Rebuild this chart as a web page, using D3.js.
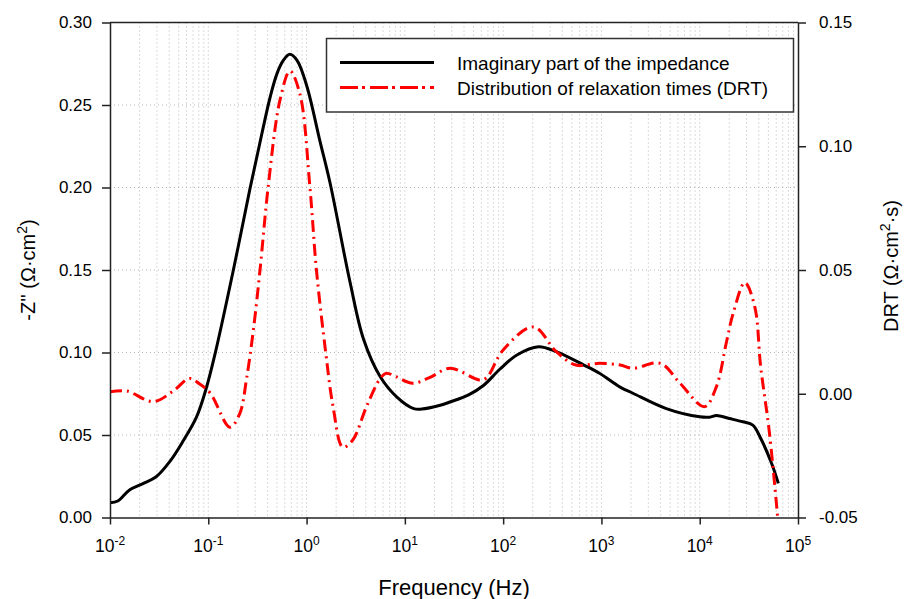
<!DOCTYPE html>
<html lang="en">
<head>
<meta charset="UTF-8">
<title>Imaginary impedance and DRT</title>
<script src="https://d3js.org/d3.v7.min.js"></script>
<style>
    body { margin: 0; background: #fff; }
    svg text { font-family: "Liberation Sans", Arial, sans-serif; fill: #000; }
    .grid line { stroke: #b8b8b8; stroke-width: 1; stroke-dasharray: 1,3; }
</style>
</head>
<body>
<div id="chart"></div>
<script>
    // frequency (Hz) and -Z'' (ohm cm2)
    const zFreq = [0.01, 0.012, 0.0158, 0.0219, 0.0295, 0.0407, 0.055, 0.076, 0.095, 0.117,
        0.18, 0.265, 0.349, 0.427, 0.50, 0.58, 0.676, 0.80, 1.0, 1.37, 1.73, 2.76, 3.8, 5.62, 8.3,
        12.3, 14.8, 22.9, 28.8, 45, 63, 93, 138, 229, 347, 661, 955, 1549, 2089,
        4571, 10000, 12600, 14800, 20000, 27500, 34700, 41700, 53700, 63100];
    const zImag = [0.009, 0.010, 0.0167, 0.0207, 0.0247, 0.034, 0.046, 0.061, 0.078, 0.099,
        0.150, 0.199, 0.232, 0.255, 0.269, 0.277, 0.2807, 0.277, 0.262, 0.228, 0.203, 0.143, 0.108, 0.0853, 0.073,
        0.066, 0.0657, 0.068, 0.070, 0.0745, 0.080, 0.090, 0.0985, 0.1035, 0.1005, 0.0924, 0.0874, 0.079, 0.0753,
        0.066, 0.061, 0.0608, 0.0618, 0.060, 0.058, 0.056, 0.048, 0.033, 0.0207];

    // frequency (Hz) and DRT (ohm cm2 s)
    const drtFreq = [0.01, 0.0148, 0.0275, 0.0437, 0.0646, 0.0813, 0.105, 0.166, 0.209, 0.245,
        0.288, 0.336, 0.407, 0.537, 0.678, 0.857, 1.08, 1.26, 1.57, 1.86, 2.34, 2.95,
        4.07, 5.62, 6.46, 8.13, 12.0, 17.8, 28.8, 57.5, 67.6, 100, 204, 347, 550, 955, 1549,
        2089, 3981, 6310, 11200, 14800, 18600, 21900, 28800, 36300, 41700, 51300, 63100];
    const drtVal = [0.0008, 0.0011, -0.0032, 0.001, 0.0062, 0.004, 0.0002, -0.0135, -0.008, 0.006,
        0.026, 0.050, 0.0837, 0.1187, 0.1304, 0.121, 0.0837, 0.050, 0.0163, -0.0052, -0.0216, -0.0187,
        -0.0052, 0.0062, 0.0083, 0.0069, 0.0042, 0.0065, 0.0103, 0.0056, 0.0064, 0.0177, 0.027, 0.017, 0.0116, 0.0123, 0.0116,
        0.0103, 0.0123, 0.0042, -0.0052, 0.0029, 0.0204, 0.0325, 0.0449, 0.0352, 0.011, -0.016, -0.053];

    const xTickExp = [-2, -1, 0, 1, 2, 3, 4, 5];
    const leftTicks = [0.00, 0.05, 0.10, 0.15, 0.20, 0.25, 0.30];
    const rightTicks = [-0.05, 0.00, 0.05, 0.10, 0.15];
    const legendLabels = ["Imaginary part of the impedance", "Distribution of relaxation times (DRT)"];

    const W = 904, H = 599;
    const margin = {top: 22.5, right: 106, bottom: 81.5, left: 110};
    const width = W - margin.left - margin.right,
          height = H - margin.top - margin.bottom;

    const root = d3.select("#chart").append("svg")
        .attr("width", W)
        .attr("height", H);

    const svg = root.append("g")
        .attr("transform", `translate(${margin.left},${margin.top})`);

    const x = d3.scaleLog().domain([0.01, 1e5]).range([0, width]);
    const yL = d3.scaleLinear().domain([0, 0.30]).range([height, 0]);
    const yR = d3.scaleLinear().domain([-0.05, 0.15]).range([height, 0]);

    // dotted grid
    const minor = [];
    for (let e = -2; e < 5; e++) {
        for (let k = 1; k < 10; k++) minor.push(k * Math.pow(10, e));
    }
    const grid = svg.append("g").attr("class", "grid");
    grid.selectAll(".v").data(minor.filter(v => v > 0.01))
        .enter().append("line")
        .attr("x1", d => x(d)).attr("x2", d => x(d))
        .attr("y1", 0).attr("y2", height);
    grid.selectAll(".h").data(leftTicks.slice(1, -1))
        .enter().append("line")
        .attr("x1", 0).attr("x2", width)
        .attr("y1", d => yL(d)).attr("y2", d => yL(d));

    svg.append("clipPath").attr("id", "clip")
        .append("rect").attr("width", width).attr("height", height);

    const lineZ = d3.line()
        .x((d, i) => x(zFreq[i]))
        .y(d => yL(d))
        .curve(d3.curveCatmullRom.alpha(0.5));
    const lineD = d3.line()
        .x((d, i) => x(drtFreq[i]))
        .y(d => yR(d))
        .curve(d3.curveCatmullRom.alpha(0.5));

    svg.append("path")
        .attr("clip-path", "url(#clip)")
        .attr("d", lineZ(zImag))
        .attr("fill", "none")
        .attr("stroke", "#000")
        .attr("stroke-width", 3);

    svg.append("path")
        .attr("clip-path", "url(#clip)")
        .attr("d", lineD(drtVal))
        .attr("fill", "none")
        .attr("stroke", "#ff0000")
        .attr("stroke-width", 3)
        .attr("stroke-dasharray", "12,5,2,5");

    // axes
    const axisStyle = g => {
        g.select(".domain").attr("stroke", "#222").attr("stroke-width", 1.5);
        g.selectAll(".tick line").attr("stroke", "#222").attr("stroke-width", 1.5);
        g.selectAll("text").style("font-size", "17px");
    };

    svg.append("g")
        .call(d3.axisLeft(yL).tickValues(leftTicks).tickFormat(d3.format(".2f")).tickSize(8).tickSizeOuter(0).tickPadding(10))
        .call(axisStyle);

    svg.append("g")
        .attr("transform", `translate(${width},0)`)
        .call(d3.axisRight(yR).tickValues(rightTicks).tickFormat(d3.format(".2f")).tickSize(8).tickSizeOuter(0).tickPadding(13))
        .call(axisStyle)
        .selectAll("text").text(d => d < 0 ? "-" + d3.format(".2f")(-d) : d3.format(".2f")(d));

    svg.append("g")
        .attr("transform", `translate(0,${height})`)
        .call(d3.axisBottom(x).tickValues(xTickExp.map(e => Math.pow(10, e))).tickFormat("").tickSize(7).tickSizeOuter(0))
        .call(axisStyle);

    // top frame
    svg.append("line")
        .attr("x1", 0).attr("x2", width).attr("y1", 0).attr("y2", 0)
        .attr("stroke", "#222").attr("stroke-width", 1.5);

    // bottom tick labels with superscripts
    const xl = svg.append("g").selectAll("text").data(xTickExp)
        .enter().append("text")
        .attr("x", d => x(Math.pow(10, d)))
        .attr("y", height + 34)
        .attr("text-anchor", "middle")
        .style("font-size", "17.5px");
    xl.append("tspan").text("10");
    xl.append("tspan").attr("dy", -7).style("font-size", "12px").text(d => d);

    // axis titles
    svg.append("text")
        .attr("x", width / 2)
        .attr("y", height + 77)
        .attr("text-anchor", "middle")
        .style("font-size", "22px")
        .text("Frequency (Hz)");

    const yt = svg.append("text")
        .attr("transform", `translate(${-margin.left + 35},${height / 2}) rotate(-90)`)
        .attr("text-anchor", "middle")
        .style("font-size", "20px");
    yt.append("tspan").text("-Z'' (\u03A9\u00B7cm");
    yt.append("tspan").attr("dy", -8).style("font-size", "14px").text("2");
    yt.append("tspan").attr("dy", 8).text(")");

    const rt = svg.append("text")
        .attr("transform", `translate(${width + 100},${height / 2 - 4}) rotate(-90)`)
        .attr("text-anchor", "middle")
        .style("font-size", "20px");
    rt.append("tspan").text("DRT (\u03A9\u00B7cm");
    rt.append("tspan").attr("dy", -8).style("font-size", "14px").text("2");
    rt.append("tspan").attr("dy", 8).text("\u00B7s)");

    // legend
    const lg = root.append("g");
    lg.append("rect")
        .attr("x", 326.5).attr("y", 38.5)
        .attr("width", 467).attr("height", 73.5)
        .attr("fill", "#fff")
        .attr("stroke", "#333").attr("stroke-width", 1.5);
    const legendStyles = [{stroke: "#000", dash: null}, {stroke: "#ff0000", dash: "18,4,3,5"}];
    legendLabels.forEach((t, i) => {
        const cy = 62.5 + i * 25;
        lg.append("line")
            .attr("x1", 340).attr("x2", 434)
            .attr("y1", cy).attr("y2", cy)
            .attr("stroke", legendStyles[i].stroke)
            .attr("stroke-width", 3)
            .attr("stroke-dasharray", legendStyles[i].dash);
        lg.append("text")
            .attr("x", 457).attr("y", cy + 7)
            .style("font-size", "19px")
            .text(t);
    });
</script>
</body>
</html>
